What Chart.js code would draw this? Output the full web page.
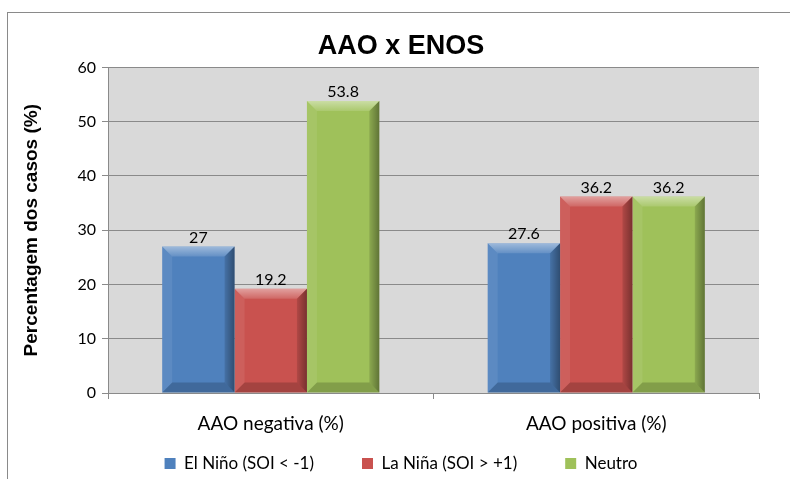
<!DOCTYPE html>
<html>
<head>
<meta charset="utf-8">
<script src="https://cdn.jsdelivr.net/npm/chart.js@4.4.0/dist/chart.umd.min.js"></script>
<style>
  html, body { margin: 0; padding: 0; background: #ffffff; }
  #wrap { width: 790px; height: 479px; }
</style>
</head>
<body>
<div id="wrap"><canvas id="c" width="790" height="479"></canvas></div>
<script>
// Categories, series and axis ticks
const categories = ['AAO negativa (%)', 'AAO positiva (%)'];
const seriesNames = ['El Niño (SOI < -1)', 'La Niña (SOI > +1)', 'Neutro'];
const elNino = [27, 27.6];
const laNina = [19.2, 36.2];
const neutro = [53.8, 36.2];
const yTickValues = [0, 10, 20, 30, 40, 50, 60];

const seriesColors = ['#4f81bd', '#c9524f', '#9fc15a'];
const labelFont = "Lato, 'Open Sans', sans-serif";
const boldFont = "'Liberation Sans', Arial, sans-serif";

// Outer frame and grey plot background
const framePlugin = {
  id: 'frame',
  beforeDraw(chart) {
    const { ctx, chartArea: a } = chart;
    ctx.save();
    ctx.fillStyle = '#ffffff';
    ctx.fillRect(0, 0, chart.width, chart.height);
    ctx.strokeStyle = '#8a8a8a';
    ctx.lineWidth = 1;
    ctx.strokeRect(7.5, 12.5, 900, 900);
    ctx.fillStyle = '#d9d9d9';
    ctx.fillRect(a.left, a.top, a.right - a.left, a.bottom - a.top);
    ctx.restore();
  }
};

// Bevelled faces on every bar, plus its value above it
const bevelPlugin = {
  id: 'bevel',
  afterDatasetsDraw(chart) {
    const { ctx } = chart;
    ctx.save();
    chart.data.datasets.forEach((ds, di) => {
      const meta = chart.getDatasetMeta(di);
      meta.data.forEach((bar, i) => {
        const p = bar.getProps(['x', 'y', 'base', 'width'], true);
        const l = p.x - p.width / 2, r = p.x + p.width / 2;
        const t = Math.min(p.y, p.base), b = Math.max(p.y, p.base);
        const bv = Math.min(10, (b - t) / 2);
        const poly = (pts, fill) => {
          ctx.beginPath();
          ctx.moveTo(pts[0][0], pts[0][1]);
          for (let k = 1; k < pts.length; k++) ctx.lineTo(pts[k][0], pts[k][1]);
          ctx.closePath();
          ctx.fillStyle = fill;
          ctx.fill();
        };
        // top face
        const gTop = ctx.createLinearGradient(0, t, 0, t + bv);
        gTop.addColorStop(0, 'rgba(255,255,255,0.45)');
        gTop.addColorStop(1, 'rgba(255,255,255,0.12)');
        poly([[l, t], [r, t], [r - bv, t + bv], [l + bv, t + bv]], gTop);
        // left face
        poly([[l, t], [l + bv, t + bv], [l + bv, b - bv], [l, b]], 'rgba(255,255,255,0.08)');
        // right face
        const gR = ctx.createLinearGradient(r - bv, 0, r, 0);
        gR.addColorStop(0, 'rgba(0,0,0,0.12)');
        gR.addColorStop(1, 'rgba(0,0,0,0.40)');
        poly([[r, t], [r, b], [r - bv, b - bv], [r - bv, t + bv]], gR);
        // bottom face
        poly([[l, b], [l + bv, b - bv], [r - bv, b - bv], [r, b]], 'rgba(0,0,0,0.18)');

        // value label
        ctx.fillStyle = '#000000';
        ctx.font = '16px ' + labelFont;
        ctx.textAlign = 'center';
        ctx.textBaseline = 'bottom';
        ctx.fillText(String(ds.data[i]), p.x, t - 1);
      });
    });
    ctx.restore();
  }
};

const LEGEND_PAD = 48;

new Chart(document.getElementById('c'), {
  type: 'bar',
  data: {
    labels: categories,
    datasets: [
      { label: seriesNames[0], data: elNino, backgroundColor: seriesColors[0] },
      { label: seriesNames[1], data: laNina, backgroundColor: seriesColors[1] },
      { label: seriesNames[2], data: neutro, backgroundColor: seriesColors[2] }
    ]
  },
  options: {
    responsive: false,
    devicePixelRatio: 1,
    animation: false,
    layout: { padding: { left: 20, right: 8, top: 0, bottom: -3 } },
    datasets: { bar: { barPercentage: 1.0, categoryPercentage: 0.667 } },
    plugins: {
      title: {
        display: true,
        text: 'AAO x ENOS',
        color: '#000000',
        font: { family: boldFont, size: 27, weight: 'bold' },
        padding: { top: 30, bottom: 5 }
      },
      legend: {
        position: 'bottom',
        labels: {
          color: '#000000',
          font: { family: labelFont, size: 17 },
          boxWidth: 11,
          boxHeight: 11,
          padding: LEGEND_PAD
        }
      },
      tooltip: { enabled: false }
    },
    scales: {
      x: {
        grid: { display: true, drawOnChartArea: false, drawTicks: true, tickLength: 6, color: '#8a8a8a', offset: true },
        border: { display: true, color: '#8a8a8a' },
        ticks: { color: '#000000', font: { family: labelFont, size: 19 }, padding: 13 },
        afterFit(s) {
          // the legend row sits just below, so the axis box stays short;
          // let its labels draw past the box instead of being clipped
          s.height = 14;
          s._computeLabelArea = () => undefined;
        }
      },
      y: {
        min: 0,
        max: 60,
        afterBuildTicks(s) { s.ticks = yTickValues.map(v => ({ value: v })); },
        grid: { color: '#8a8a8a', tickLength: 6 },
        border: { display: true, color: '#8a8a8a' },
        ticks: { color: '#000000', font: { family: labelFont, size: 16 }, padding: 6 },
        title: {
          display: true,
          text: 'Percentagem dos casos (%)',
          color: '#000000',
          font: { family: boldFont, size: 19, weight: 'bold' },
          padding: { top: 0, bottom: 0 }
        },
        afterFit(s) { s.width = 88; }
      },
      yRight: {
        position: 'right',
        display: true,
        min: 0,
        max: 60,
        grid: { display: false },
        border: { display: false },
        ticks: { display: false },
        afterFit(s) { s.width = 23; }
      }
    }
  },
  plugins: [framePlugin, bevelPlugin]
});
</script>
</body>
</html>
